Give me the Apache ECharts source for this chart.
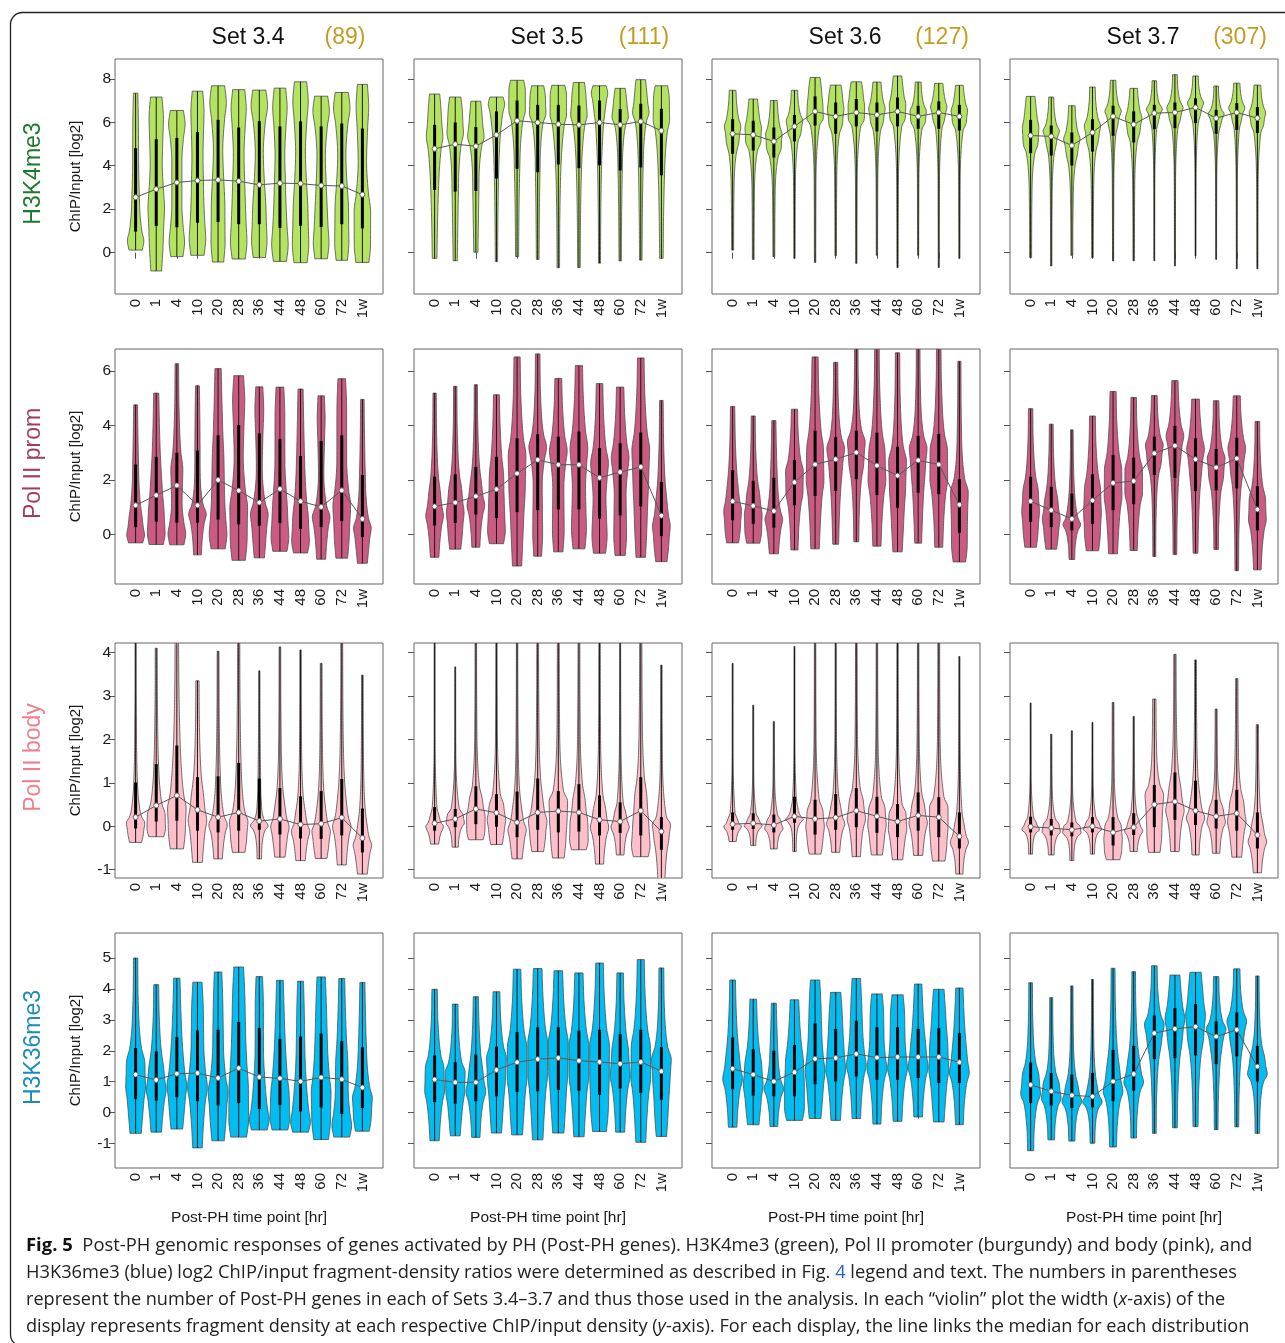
<!DOCTYPE html>
<html>
<head>
<meta charset="utf-8">
<title>Fig. 5 Post-PH genomic responses</title>
<script src="https://cdn.jsdelivr.net/npm/echarts@6.0.0/dist/echarts.min.js"></script>
<style>
html, body { margin: 0; padding: 0; background: #fff; }
#chart { width: 1285px; height: 1343px; }
</style>
</head>
<body>
<div id="chart"></div>
<script>
// categories / labels
var timeLabels = ['0', '1', '4', '10', '20', '28', '36', '44', '48', '60', '72', '1w'];
var setNames = ['Set 3.4', 'Set 3.5', 'Set 3.6', 'Set 3.7'];
var setCounts = ['(89)', '(111)', '(127)', '(307)'];
var markNames = ['H3K4me3', 'Pol II prom', 'Pol II body', 'H3K36me3'];
var yTicks = [[0, 2, 4, 6, 8], [0, 2, 4, 6], [-1, 0, 1, 2, 3, 4], [-1, 0, 1, 2, 3, 4, 5]];
var yRanges = [[-1.90, 8.91], [-1.82, 6.81], [-1.19, 4.22], [-1.79, 5.81]];

// each violin: [lower end, Q1, median, Q3, upper end]
var k4_34 = [[0.12, 0.97, 2.55, 4.81, 7.34], [-0.84, 1.23, 2.92, 5.22, 7.16], [-0.18, 1.17, 3.23, 5.28, 6.54], [-0.12, 1.38, 3.32, 5.55, 7.43], [-0.43, 1.41, 3.35, 6.11, 7.68], [-0.29, 1.31, 3.29, 5.76, 7.50], [-0.22, 1.31, 3.12, 6.05, 7.48], [-0.40, 1.14, 3.20, 5.81, 7.57], [-0.46, 1.24, 3.18, 6.04, 7.86], [-0.28, 1.18, 3.09, 5.81, 7.20], [-0.35, 1.31, 3.07, 5.94, 7.37], [-0.45, 1.12, 2.67, 5.71, 7.74]];
var k4_35 = [[-0.26, 2.89, 4.78, 5.88, 7.30], [-0.37, 2.81, 4.99, 5.99, 7.16], [0.02, 2.84, 4.90, 5.78, 6.97], [-0.41, 3.41, 5.42, 6.50, 7.16], [-0.18, 3.86, 6.07, 7.00, 7.93], [-0.31, 3.70, 5.99, 6.80, 7.68], [-0.69, 4.06, 5.91, 6.80, 7.70], [-0.68, 3.89, 5.88, 6.77, 7.83], [-0.48, 4.02, 5.99, 7.00, 7.68], [-0.38, 3.78, 5.88, 6.61, 7.56], [-0.34, 3.92, 6.04, 6.85, 7.96], [-0.26, 3.56, 5.61, 6.62, 7.68]];
var k4_36 = [[0.12, 4.55, 5.47, 6.14, 7.47], [-0.31, 4.70, 5.42, 6.07, 7.07], [-0.18, 4.38, 5.12, 5.76, 7.00], [-0.26, 5.12, 5.81, 6.34, 7.47], [-0.45, 5.85, 6.50, 7.19, 8.06], [-0.14, 5.47, 6.27, 6.91, 7.71], [-0.49, 5.81, 6.45, 7.07, 7.86], [-0.12, 5.58, 6.34, 6.91, 7.85], [-0.68, 5.81, 6.50, 7.14, 8.13], [-0.12, 5.70, 6.27, 6.76, 7.85], [-0.68, 5.70, 6.45, 6.96, 7.79], [-0.26, 5.62, 6.27, 6.80, 7.70]];
var k4_37 = [[-0.22, 4.58, 5.39, 6.11, 7.19], [-0.61, 4.47, 5.35, 5.85, 7.16], [-0.12, 4.01, 4.93, 5.53, 6.76], [-0.23, 4.65, 5.53, 6.14, 7.62], [-0.38, 5.38, 6.27, 6.76, 7.93], [-0.37, 5.07, 5.90, 6.50, 7.56], [-0.37, 5.68, 6.42, 6.80, 7.91], [-0.61, 5.73, 6.45, 6.91, 8.19], [-0.15, 5.96, 6.68, 7.10, 8.13], [-0.31, 5.47, 6.19, 6.57, 7.67], [-0.74, 5.65, 6.45, 6.88, 7.80], [-0.74, 5.50, 6.19, 6.70, 7.71]];

var pp_34 = [[-0.31, 0.27, 1.07, 2.57, 4.76], [-0.37, 0.47, 1.44, 2.85, 5.19], [-0.38, 0.43, 1.80, 3.00, 6.27], [-0.75, 0.43, 1.07, 3.08, 5.46], [-0.53, 0.55, 2.00, 3.64, 6.09], [-0.95, 0.37, 1.61, 4.02, 5.83], [-0.86, 0.32, 1.17, 3.71, 5.42], [-0.62, 0.42, 1.67, 3.51, 5.41], [-0.68, 0.20, 1.22, 2.88, 5.34], [-0.91, 0.27, 1.01, 3.43, 5.09], [-0.87, 0.49, 1.62, 3.64, 5.72], [-1.06, -0.10, 0.57, 2.18, 4.96]];
var pp_35 = [[-0.84, 0.33, 1.03, 2.12, 5.19], [-0.54, 0.42, 1.17, 2.21, 5.44], [-0.47, 0.73, 1.40, 2.48, 5.50], [-0.34, 0.60, 1.66, 2.85, 5.13], [-1.16, 0.82, 2.24, 3.53, 6.52], [-0.80, 0.89, 2.74, 3.68, 6.63], [-0.64, 0.92, 2.56, 3.59, 5.73], [-0.53, 0.92, 2.56, 3.78, 6.20], [-0.69, 0.58, 2.08, 3.17, 5.54], [-0.77, 0.70, 2.29, 3.35, 5.41], [-0.84, 1.03, 2.48, 3.74, 6.48], [-1.00, -0.06, 0.69, 1.93, 4.92]];
var pp_36 = [[-0.31, 0.52, 1.22, 2.36, 4.70], [-0.32, 0.39, 1.05, 1.97, 4.35], [-0.71, 0.25, 0.86, 2.08, 4.18], [-0.57, 1.07, 1.92, 2.73, 4.60], [-0.53, 1.41, 2.57, 3.81, 6.52], [-0.36, 1.60, 2.76, 3.57, 6.32], [-0.27, 2.03, 3.01, 3.81, 7.20], [-0.43, 1.45, 2.53, 3.74, 7.20], [-0.64, 0.98, 2.16, 3.22, 6.67], [-0.32, 1.53, 2.72, 3.62, 7.20], [-0.47, 1.48, 2.57, 3.69, 7.20], [-1.01, 0.06, 1.09, 2.03, 6.36]];
var pp_37 = [[-0.47, 0.46, 1.22, 2.12, 4.62], [-0.54, 0.27, 0.89, 1.75, 4.05], [-0.92, 0.15, 0.57, 1.50, 3.84], [-0.60, 0.39, 1.25, 2.21, 4.35], [-0.71, 0.89, 1.89, 2.92, 5.25], [-0.59, 1.11, 1.96, 2.82, 5.03], [-0.81, 2.18, 2.98, 3.59, 5.10], [-0.74, 2.08, 3.26, 3.99, 5.65], [-0.69, 1.59, 2.76, 3.53, 4.97], [-0.55, 1.62, 2.46, 3.14, 4.91], [-1.33, 1.69, 2.79, 3.55, 5.09], [-1.30, 0.15, 0.92, 1.77, 4.15]];

var pb_34 = [[-0.37, -0.05, 0.21, 1.01, 4.40], [-0.24, 0.11, 0.48, 1.43, 4.10], [-0.52, 0.13, 0.71, 1.86, 4.40], [-0.83, -0.10, 0.38, 1.13, 3.35], [-0.75, -0.14, 0.21, 1.15, 4.03], [-0.60, -0.10, 0.32, 1.46, 4.40], [-0.75, -0.08, 0.12, 1.10, 3.58], [-0.71, -0.19, 0.17, 0.88, 4.13], [-0.79, -0.28, 0.04, 0.69, 4.06], [-0.74, -0.29, 0.06, 0.81, 3.75], [-0.89, -0.21, 0.20, 1.09, 4.40], [-1.10, -0.60, -0.27, 0.41, 3.48]];
var pb_35 = [[-0.41, -0.10, 0.07, 0.44, 4.40], [-0.48, -0.02, 0.17, 0.40, 3.67], [-0.31, 0.05, 0.40, 0.92, 4.40], [-0.42, -0.01, 0.31, 0.74, 4.40], [-0.75, -0.25, 0.09, 0.80, 4.40], [-0.58, -0.08, 0.32, 1.10, 4.40], [-0.73, -0.14, 0.35, 0.81, 4.40], [-0.54, -0.12, 0.32, 0.97, 4.40], [-0.87, -0.21, 0.15, 0.71, 4.40], [-0.66, -0.15, 0.11, 0.55, 4.40], [-0.70, -0.21, 0.36, 1.13, 4.40], [-1.25, -0.54, -0.12, 0.21, 3.71]];
var pb_36 = [[-0.35, -0.08, 0.05, 0.32, 3.75], [-0.44, -0.06, 0.07, 0.30, 2.79], [-0.52, -0.14, 0.03, 0.27, 2.41], [-0.58, 0.08, 0.23, 0.68, 4.14], [-0.64, -0.19, 0.17, 0.61, 4.40], [-0.60, -0.08, 0.20, 0.74, 4.40], [-0.70, -0.02, 0.36, 0.88, 4.40], [-0.66, -0.15, 0.23, 0.68, 4.40], [-0.77, -0.25, 0.11, 0.51, 4.40], [-0.67, -0.10, 0.25, 0.78, 4.40], [-0.80, -0.25, 0.21, 0.67, 4.40], [-1.10, -0.51, -0.23, 0.32, 3.91]];
var pb_37 = [[-0.64, -0.14, -0.01, 0.22, 2.84], [-0.66, -0.21, -0.04, 0.17, 2.12], [-0.79, -0.23, -0.08, 0.09, 2.20], [-0.64, -0.14, 0.00, 0.21, 2.39], [-0.77, -0.44, -0.14, 0.21, 2.85], [-0.58, -0.20, -0.02, 0.30, 2.53], [-0.60, -0.02, 0.50, 0.95, 2.93], [-0.58, 0.15, 0.57, 1.24, 3.96], [-0.66, 0.03, 0.36, 1.05, 3.83], [-0.62, -0.05, 0.23, 0.61, 2.70], [-0.71, -0.10, 0.30, 0.84, 3.40], [-1.07, -0.51, -0.20, 0.32, 2.34]];

var k36_34 = [[-0.67, 0.44, 1.23, 2.09, 5.00], [-0.63, 0.39, 1.06, 1.98, 4.14], [-0.53, 0.50, 1.26, 2.44, 4.35], [-1.14, 0.37, 1.28, 2.66, 4.22], [-0.91, 0.23, 1.12, 2.68, 4.55], [-0.79, 0.31, 1.44, 2.93, 4.71], [-0.56, 0.12, 1.15, 2.74, 4.40], [-0.56, 0.24, 1.11, 2.39, 4.28], [-0.63, 0.04, 1.01, 2.46, 4.25], [-0.87, 0.17, 1.14, 2.56, 4.39], [-0.79, -0.04, 1.08, 2.31, 4.34], [-0.60, 0.15, 0.81, 2.11, 4.21]];
var k36_35 = [[-0.91, 0.34, 1.07, 1.85, 3.99], [-0.75, 0.29, 0.98, 1.63, 3.51], [-0.80, 0.37, 0.98, 1.88, 3.75], [-0.66, 0.53, 1.38, 2.14, 3.91], [-0.72, 0.67, 1.63, 2.61, 4.64], [-0.88, 0.69, 1.73, 2.76, 4.66], [-0.66, 0.74, 1.77, 2.76, 4.59], [-0.78, 0.71, 1.68, 2.65, 4.52], [-0.61, 0.58, 1.64, 2.68, 4.84], [-0.63, 0.78, 1.58, 2.54, 4.52], [-0.96, 0.64, 1.64, 2.68, 4.95], [-0.77, 0.42, 1.34, 2.12, 4.68]];
var k36_36 = [[-0.47, 0.76, 1.42, 2.43, 4.29], [-0.39, 0.55, 1.23, 2.05, 3.67], [-0.45, 0.53, 1.01, 2.00, 3.54], [-0.25, 0.53, 1.31, 2.19, 3.65], [-0.19, 0.92, 1.74, 2.89, 4.29], [-0.25, 1.01, 1.77, 2.71, 3.89], [-0.19, 1.17, 1.90, 2.97, 4.34], [-0.37, 1.06, 1.78, 2.76, 3.84], [-0.28, 1.06, 1.80, 2.76, 3.81], [-0.14, 1.12, 1.80, 2.71, 4.16], [-0.30, 0.96, 1.80, 2.73, 3.99], [-0.39, 0.96, 1.63, 2.57, 4.03]];
var k36_37 = [[-1.23, 0.31, 0.90, 1.62, 4.20], [-0.88, 0.23, 0.69, 1.28, 3.72], [-0.92, 0.15, 0.56, 1.23, 4.10], [-0.99, 0.17, 0.52, 1.28, 4.31], [-1.11, 0.37, 1.01, 2.03, 4.67], [-0.82, 0.71, 1.25, 2.16, 4.56], [-0.67, 1.73, 2.57, 3.14, 4.75], [-0.49, 1.76, 2.71, 3.38, 4.45], [-0.45, 1.85, 2.78, 3.51, 4.54], [-0.55, 1.57, 2.46, 2.95, 4.40], [-0.46, 1.82, 2.68, 3.24, 4.65], [-0.67, 1.01, 1.49, 2.16, 4.42]];

var panels = [
    [k4_34, k4_35, k4_36, k4_37],
    [pp_34, pp_35, pp_36, pp_37],
    [pb_34, pb_35, pb_36, pb_37],
    [k36_34, k36_35, k36_36, k36_37]
];

var captionLines = [
    '{b|Fig. 5}  Post-PH genomic responses of genes activated by PH (Post-PH genes). H3K4me3 (green), Pol II promoter (burgundy) and body (pink), and',
    'H3K36me3 (blue) log2 ChIP/input fragment-density ratios were determined as described in Fig. {l|4} legend and text. The numbers in parentheses',
    'represent the number of Post-PH genes in each of Sets 3.4\u20133.7 and thus those used in the analysis. In each \u201cviolin\u201d plot the width ({i|x}-axis) of the',
    'display represents fragment density at each respective ChIP/input density ({i|y}-axis). For each display, the line links the median for each distribution'
];

// layout + style
var colLeft = [115, 414, 712, 1010];
var rowTop = [59, 349, 643, 933];
var boxW = 268, boxH = 235;
var captionEnd = [1250, 1237, 1226, 1250];
var markColors = ['#1d7a2b', '#a53a62', '#f07f8e', '#1b8cb8'];
var violinFill = ['#b3e35f', '#cb5b83', '#ffc0cb', '#00bdf2'];
var violinWex = [0.8, 0.86, 0.9, 0.96];
var countColor = '#c49c24';
var axisFont = '"Liberation Sans", Arial, sans-serif';
var capFont = '"Open Sans", "Noto Sans", sans-serif';
var capRatio = 0.8;

// monotone cubic through knots (keeps the outline from overshooting)
function monotone(xs, ys) {
    var n = xs.length, d = [], m = [], i;
    for (i = 0; i < n - 1; i++) d[i] = (ys[i + 1] - ys[i]) / (xs[i + 1] - xs[i]);
    m[0] = d[0]; m[n - 1] = d[n - 2];
    for (i = 1; i < n - 1; i++) m[i] = d[i - 1] * d[i] <= 0 ? 0 : (d[i - 1] + d[i]) / 2;
    for (i = 0; i < n - 1; i++) {
        if (d[i] === 0) { m[i] = 0; m[i + 1] = 0; continue; }
        var a = m[i] / d[i], b = m[i + 1] / d[i], s = a * a + b * b;
        if (s > 9) { var t = 3 / Math.sqrt(s); m[i] = t * a * d[i]; m[i + 1] = t * b * d[i]; }
    }
    return function (x) {
        var j = 0;
        while (j < n - 2 && x > xs[j + 1]) j++;
        var h = xs[j + 1] - xs[j], u = (x - xs[j]) / h;
        var h00 = 2 * u * u * u - 3 * u * u + 1, h10 = u * u * u - 2 * u * u + u;
        var h01 = -2 * u * u * u + 3 * u * u, h11 = u * u * u - u * u;
        return h00 * ys[j] + h10 * h * m[j] + h01 * ys[j + 1] + h11 * h * m[j + 1];
    };
}

// outline width from quartile spacing: 25% of values in each interval
function violinProfile(q) {
    var dens = [], k = [], w = [], i;
    for (i = 0; i < 4; i++) dens.push(0.25 / Math.max(q[i + 1] - q[i], 0.03));
    var dmax = Math.max.apply(null, dens);
    k.push(q[0]); w.push(dens[0] * capRatio);
    for (i = 0; i < 4; i++) {
        k.push((q[i] + q[i + 1]) / 2); w.push(dens[i]);
        if (i < 3) { k.push(q[i + 1]); w.push((dens[i] + dens[i + 1]) / 2); }
    }
    k.push(q[4]); w.push(dens[3] * capRatio);
    w = w.map(function (v) { return Math.max(v / dmax, 0.05); });
    return monotone(k, w);
}

function violinRenderer(fill, wex) {
    return function (params, api) {
        var x = api.value(0);
        var q = [api.value(1), api.value(2), api.value(3), api.value(4), api.value(5)];
        var prof = violinProfile(q);
        var N = 70, left = [], right = [];
        for (var i = 0; i <= N; i++) {
            var y = q[0] + (q[4] - q[0]) * i / N;
            var hw = wex / 2 * Math.max(prof(y), 0.03);
            left.push(api.coord([x - hw, y]));
            right.unshift(api.coord([x + hw, y]));
        }
        var pLo = api.coord([x, q[0]]), pHi = api.coord([x, q[4]]);
        var p1 = api.coord([x, q[1]]), p3 = api.coord([x, q[3]]);
        return {
            type: 'group',
            children: [
                { type: 'polygon', shape: { points: left.concat(right) }, style: { fill: fill, stroke: '#4d4d4d', lineWidth: 0.8 } },
                { type: 'line', shape: { x1: pLo[0], y1: pLo[1], x2: pHi[0], y2: pHi[1] }, style: { stroke: '#1a1a1a', lineWidth: 1 } },
                { type: 'line', shape: { x1: p1[0], y1: p1[1], x2: p3[0], y2: p3[1] }, style: { stroke: '#000', lineWidth: 3 } }
            ]
        };
    };
}

var xPos = timeLabels.map(function (t, i) { return i + 1; });
var grids = [], xAxes = [], yAxes = [], series = [], graphics = [];

for (var r = 0; r < 4; r++) {
    for (var c = 0; c < 4; c++) {
        var idx = r * 4 + c;
        var vals = panels[r][c];
        grids.push({
            left: colLeft[c], top: rowTop[r], width: boxW, height: boxH,
            show: true, borderColor: '#666', borderWidth: 1, backgroundColor: 'transparent',
            outerBoundsMode: 'none'
        });
        xAxes.push({
            type: 'value', gridIndex: idx, min: 0, max: 13,
            name: r === 3 ? 'Post-PH time point [hr]' : '',
            nameLocation: 'middle', nameGap: 42,
            nameTextStyle: { fontFamily: axisFont, fontSize: 15.5, color: '#1a1a1a' },
            axisLine: { show: false }, splitLine: { show: false },
            axisTick: { show: true, customValues: xPos, length: 6, lineStyle: { color: '#555', width: 1 } },
            axisLabel: {
                customValues: xPos, rotate: 90, margin: 5, fontSize: 15, color: '#1a1a1a', fontFamily: axisFont,
                formatter: function (v) { return timeLabels[Math.round(v) - 1] || ''; }
            }
        });
        yAxes.push({
            type: 'value', gridIndex: idx, min: yRanges[r][0], max: yRanges[r][1],
            name: c === 0 ? 'ChIP/Input [log2]' : '',
            nameLocation: 'middle', nameGap: 32,
            nameTextStyle: { fontFamily: axisFont, fontSize: 15, color: '#1a1a1a' },
            axisLine: { show: false }, splitLine: { show: false },
            axisTick: { show: true, customValues: yTicks[r], length: 6, lineStyle: { color: '#555', width: 1 } },
            axisLabel: {
                show: c === 0, customValues: yTicks[r], margin: 4, fontSize: 15.5, color: '#1a1a1a', fontFamily: axisFont
            }
        });
        series.push({
            type: 'custom', xAxisIndex: idx, yAxisIndex: idx, clip: true, silent: true, animation: false,
            renderItem: violinRenderer(violinFill[r], violinWex[r]),
            encode: { x: 0, y: [1, 2, 3, 4, 5] },
            data: vals.map(function (v, i) { return [i + 1].concat(v); })
        });
        series.push({
            type: 'line', xAxisIndex: idx, yAxisIndex: idx, silent: true, animation: false, z: 5,
            data: vals.map(function (v, i) { return [i + 1, v[2]]; }),
            symbol: 'circle', symbolSize: 5, showSymbol: true,
            lineStyle: { color: '#555', width: 1 },
            itemStyle: { color: '#fff', borderColor: '#666', borderWidth: 1 }
        });
    }
}

// column titles and row labels
for (var c2 = 0; c2 < 4; c2++) {
    var cx = colLeft[c2] + boxW / 2;
    graphics.push({ type: 'text', x: cx - 1, y: 38, style: { text: setNames[c2], font: '23px ' + axisFont, fill: '#111', align: 'center', verticalAlign: 'middle' } });
    graphics.push({ type: 'text', x: cx + 96, y: 38, style: { text: setCounts[c2], font: '23px ' + axisFont, fill: countColor, align: 'center', verticalAlign: 'middle' } });
}
for (var r2 = 0; r2 < 4; r2++) {
    graphics.push({
        type: 'text', x: 34, y: rowTop[r2] + boxH / 2 - 3, rotation: Math.PI / 2,
        style: { text: markNames[r2], font: '23px ' + axisFont, fill: markColors[r2], align: 'center', verticalAlign: 'middle' }
    });
}

// caption, each line squeezed to the reference line length
var measure = document.createElement('canvas').getContext('2d');
captionLines.forEach(function (line, i) {
    var plain = line.replace(/\{[a-z]\|/g, '').replace(/\}/g, '');
    measure.font = '18px ' + capFont;
    var sc = (captionEnd[i] - 26) / measure.measureText(plain).width;
    graphics.push({
        type: 'text', x: 26, y: 1246 + i * 27, scaleX: sc,
        style: {
            text: line, fontFamily: capFont, fontSize: 18, fill: '#222', verticalAlign: 'middle',
            rich: {
                b: { fontFamily: capFont, fontSize: 18, fontWeight: 'bold', fill: '#111' },
                l: { fontFamily: capFont, fontSize: 18, fill: '#2b5fc0' },
                i: { fontFamily: capFont, fontSize: 18, fontStyle: 'italic', fill: '#222' }
            }
        }
    });
});

// rounded frame around the figure
graphics.push({
    type: 'rect', shape: { x: 10.5, y: 12.5, width: 1320, height: 1334, r: 12 },
    style: { fill: 'none', stroke: '#222', lineWidth: 1.3 }, silent: true, z: 100
});

var chart = echarts.init(document.getElementById('chart'), null, { renderer: 'canvas' });
chart.setOption({
    backgroundColor: '#fff',
    animation: false,
    grid: grids,
    xAxis: xAxes,
    yAxis: yAxes,
    series: series,
    graphic: graphics
});
</script>
</body>
</html>
